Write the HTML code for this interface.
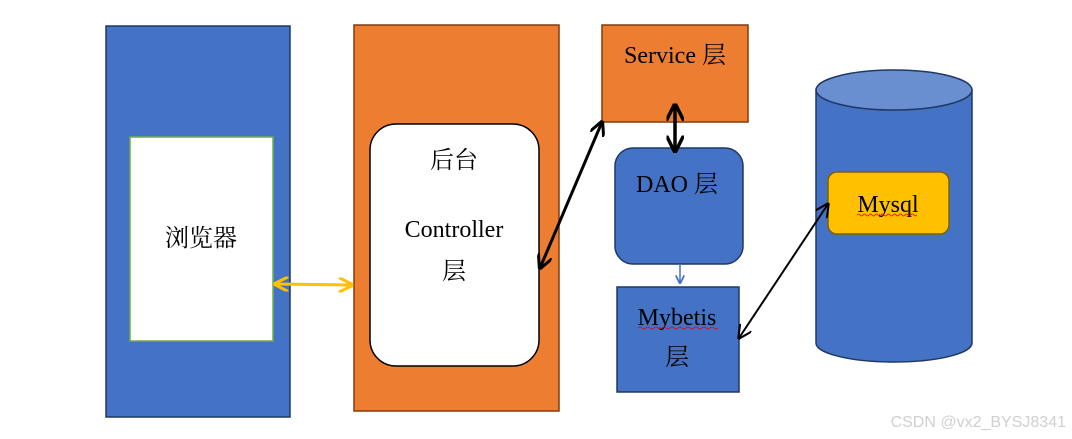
<!DOCTYPE html>
<html><head><meta charset="utf-8"><style>
html,body{margin:0;padding:0;background:#fff;}
svg{display:block;}
text{font-family:"Liberation Serif","Noto Serif CJK SC",serif;font-size:24px;fill:#000;}
</style></head><body>
<svg width="1072" height="439" viewBox="0 0 1072 439" xmlns="http://www.w3.org/2000/svg">
<defs>
<marker id="ab" viewBox="0 0 10 10" refX="9" refY="5" markerWidth="5" markerHeight="5" orient="auto-start-reverse"><path d="M0,0 L10,5 L0,10" fill="none" stroke="#000" stroke-width="2"/></marker>
<marker id="ay" viewBox="0 0 10 10" refX="9" refY="5" markerWidth="5" markerHeight="5" orient="auto-start-reverse"><path d="M0,0 L10,5 L0,10" fill="none" stroke="#FFC000" stroke-width="2"/></marker>
<marker id="ak" viewBox="0 0 10 10" refX="9" refY="5" markerWidth="7" markerHeight="7" orient="auto-start-reverse"><path d="M0,0 L10,5 L0,10" fill="none" stroke="#000" stroke-width="1.5"/></marker>
<marker id="abl" viewBox="0 0 10 10" refX="9" refY="5" markerWidth="6" markerHeight="6" orient="auto"><path d="M0,0 L10,5 L0,10" fill="none" stroke="#4472C4" stroke-width="2"/></marker>
</defs>
<rect x="106" y="26" width="184" height="391" fill="#4472C4" stroke="#1F3864" stroke-width="1.5"/>
<rect x="130" y="137" width="143" height="204" fill="#fff" stroke="#70AD47" stroke-width="1.5"/>
<text x="201" y="246" text-anchor="middle">浏览器</text>
<rect x="354" y="25" width="205" height="386" fill="#ED7D31" stroke="#843C0C" stroke-width="1.5"/>
<rect x="370" y="124" width="169" height="242" rx="26" fill="#fff" stroke="#000" stroke-width="1.5"/>
<text x="454" y="168" text-anchor="middle">后台</text>
<text x="454" y="237" text-anchor="middle">Controller</text>
<text x="454" y="279" text-anchor="middle">层</text>
<rect x="602" y="25" width="146" height="97" fill="#ED7D31" stroke="#843C0C" stroke-width="1.5"/>
<text x="675" y="63" text-anchor="middle">Service 层</text>
<rect x="615" y="148" width="128" height="116" rx="18" fill="#4472C4" stroke="#1F3864" stroke-width="1.5"/>
<text x="677" y="192" text-anchor="middle">DAO 层</text>
<rect x="617" y="287" width="122" height="105" fill="#4472C4" stroke="#1F3864" stroke-width="1.5"/>
<text x="677" y="325" text-anchor="middle">Mybetis</text>
<path d="M638,328 q2,-2 4,0 t4,0 t4,0 t4,0 t4,0 t4,0 t4,0 t4,0 t4,0 t4,0 t4,0 t4,0 t4,0 t4,0 t4,0 t4,0 t4,0 t4,0 t4,0 t4,0" fill="none" stroke="#e00" stroke-width="0.8"/>
<text x="677" y="365" text-anchor="middle">层</text>
<path d="M816,90 L816,343 A78,19 0 0 0 972,343 L972,90 Z" fill="#4472C4" stroke="#1F3864" stroke-width="1.5"/>
<ellipse cx="894" cy="90" rx="78" ry="20" fill="#6A8FD0" stroke="#1F3864" stroke-width="1.5"/>
<rect x="828" y="172" width="121" height="62" rx="9" fill="#FFC000" stroke="#7F6000" stroke-width="1.5"/>
<text x="888" y="212" text-anchor="middle">Mysql</text>
<path d="M857,215 q1.5,-2 3,0 t3,0 t3,0 t3,0 t3,0 t3,0 t3,0 t3,0 t3,0 t3,0 t3,0 t3,0 t3,0 t3,0 t3,0 t3,0 t3,0 t3,0 t3,0 t3,0" fill="none" stroke="#e00" stroke-width="0.8"/>
<line x1="275" y1="284" x2="352" y2="285" stroke="#FFC000" stroke-width="3" marker-start="url(#ay)" marker-end="url(#ay)"/>
<line x1="540" y1="268" x2="602" y2="122" stroke="#000" stroke-width="3" marker-start="url(#ab)" marker-end="url(#ab)"/>
<line x1="675" y1="105" x2="675" y2="151" stroke="#000" stroke-width="3.5" marker-start="url(#ab)" marker-end="url(#ab)"/>
<line x1="680" y1="264" x2="680" y2="283" stroke="#4472C4" stroke-width="1.5" marker-end="url(#abl)"/>
<line x1="739" y1="338" x2="828" y2="204" stroke="#000" stroke-width="2" marker-start="url(#ak)" marker-end="url(#ak)"/>
<text x="1066" y="427" text-anchor="end" style="font-family:'Liberation Sans',sans-serif;font-size:16px;fill:#d0d0d0">CSDN @vx2_BYSJ8341</text>
</svg>
</body></html>
